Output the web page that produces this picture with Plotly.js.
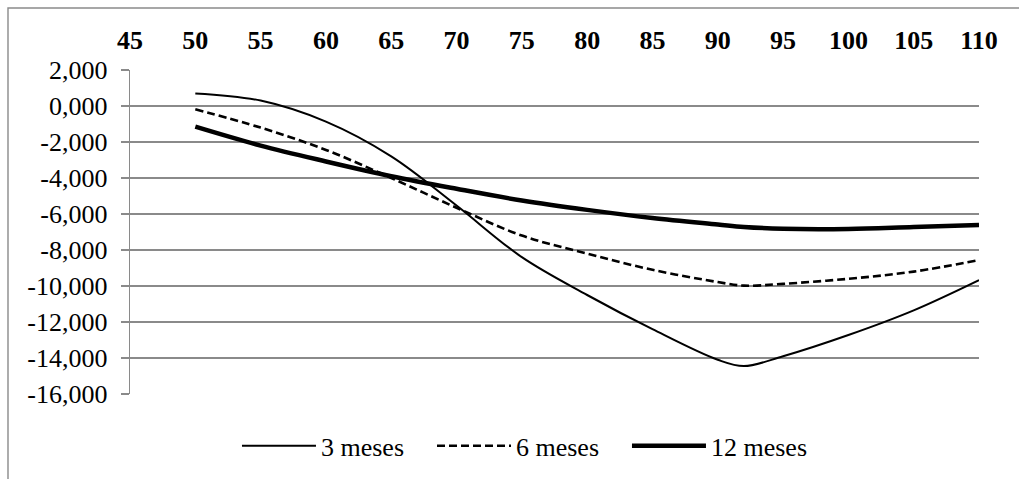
<!DOCTYPE html>
<html>
<head>
<meta charset="utf-8">
<script src="https://cdn.plot.ly/plotly-3.0.1.min.js"></script>
<style>
html,body{margin:0;padding:0;background:#fff;}
#chart{width:1019px;height:479px;}
</style>
</head>
<body>
<div id="chart"></div>
<script>
// Data
const xValues = [50, 55, 60, 65, 70, 75, 80, 85, 90, 92, 95, 100, 105, 110];
const meses3  = [0.70, 0.30, -0.87, -2.80, -5.53, -8.40, -10.50, -12.40, -14.10, -14.45, -13.90, -12.72, -11.35, -9.67];
const meses6  = [-0.18, -1.20, -2.44, -4.00, -5.65, -7.20, -8.20, -9.10, -9.78, -9.98, -9.88, -9.60, -9.20, -8.56];
const meses12 = [-1.15, -2.20, -3.08, -3.90, -4.60, -5.25, -5.77, -6.22, -6.58, -6.72, -6.82, -6.83, -6.72, -6.61];
const seriesNames = ["3 meses", "6 meses", "12 meses"];
const xTickVals = [45, 50, 55, 60, 65, 70, 75, 80, 85, 90, 95, 100, 105, 110];
const yTickVals = [2, 0, -2, -4, -6, -8, -10, -12, -14, -16];
const yTickText = ["2,000", "0,000", "-2,000", "-4,000", "-6,000", "-8,000", "-10,000", "-12,000", "-14,000", "-16,000"];

const serif = "Liberation Serif";
const gridGray = "#8a8a8a";

const traces = [
  {x: xValues, y: meses3, name: seriesNames[0], type: "scatter", mode: "lines",
   line: {color: "#000", width: 2, shape: "spline", smoothing: 1}},
  {x: xValues, y: meses6, name: seriesNames[1], type: "scatter", mode: "lines",
   line: {color: "#000", width: 2.6, dash: "8px,4px", shape: "spline", smoothing: 1}},
  {x: xValues, y: meses12, name: seriesNames[2], type: "scatter", mode: "lines",
   line: {color: "#000", width: 4.5, shape: "spline", smoothing: 1}}
];

const layout = {
  width: 1019, height: 479,
  margin: {l: 130, r: 40, t: 70, b: 85, autoexpand: false},
  paper_bgcolor: "#fff", plot_bgcolor: "#fff",
  showlegend: true,
  legend: {
    orientation: "h", x: 0.126, xanchor: "left", y: -0.16, yanchor: "middle",
    font: {family: serif, size: 26, color: "#000"},
    itemwidth: 74, entrywidth: 106, entrywidthmode: "pixels"
  },
  xaxis: {
    range: [45, 110], side: "top", tickmode: "array", tickvals: xTickVals,
    showgrid: false, zeroline: false, showline: false, ticks: "",
    tickfont: {family: serif, size: 26, color: "#000", weight: "bold"},
    ticklabelstandoff: 15
  },
  yaxis: {
    range: [-16, 2], tickmode: "array", tickvals: yTickVals, ticktext: yTickText,
    showgrid: true, gridcolor: gridGray, gridwidth: 1.4, zeroline: false,
    showline: true, linecolor: gridGray, linewidth: 1.4,
    ticks: "outside", ticklen: 8, tickcolor: gridGray, tickwidth: 1.4,
    tickfont: {family: serif, size: 26, color: "#000"},
    ticklabelstandoff: 8
  },
  shapes: [
    {type: "rect", xref: "paper", yref: "paper",
     x0: -0.1437, x1: 1.3, y0: -0.6, y1: 1.1914,
     line: {color: gridGray, width: 1.4}, fillcolor: "rgba(0,0,0,0)", layer: "below"}
  ]
};

Plotly.newPlot("chart", traces, layout, {staticPlot: true, displayModeBar: false});
</script>
</body>
</html>
